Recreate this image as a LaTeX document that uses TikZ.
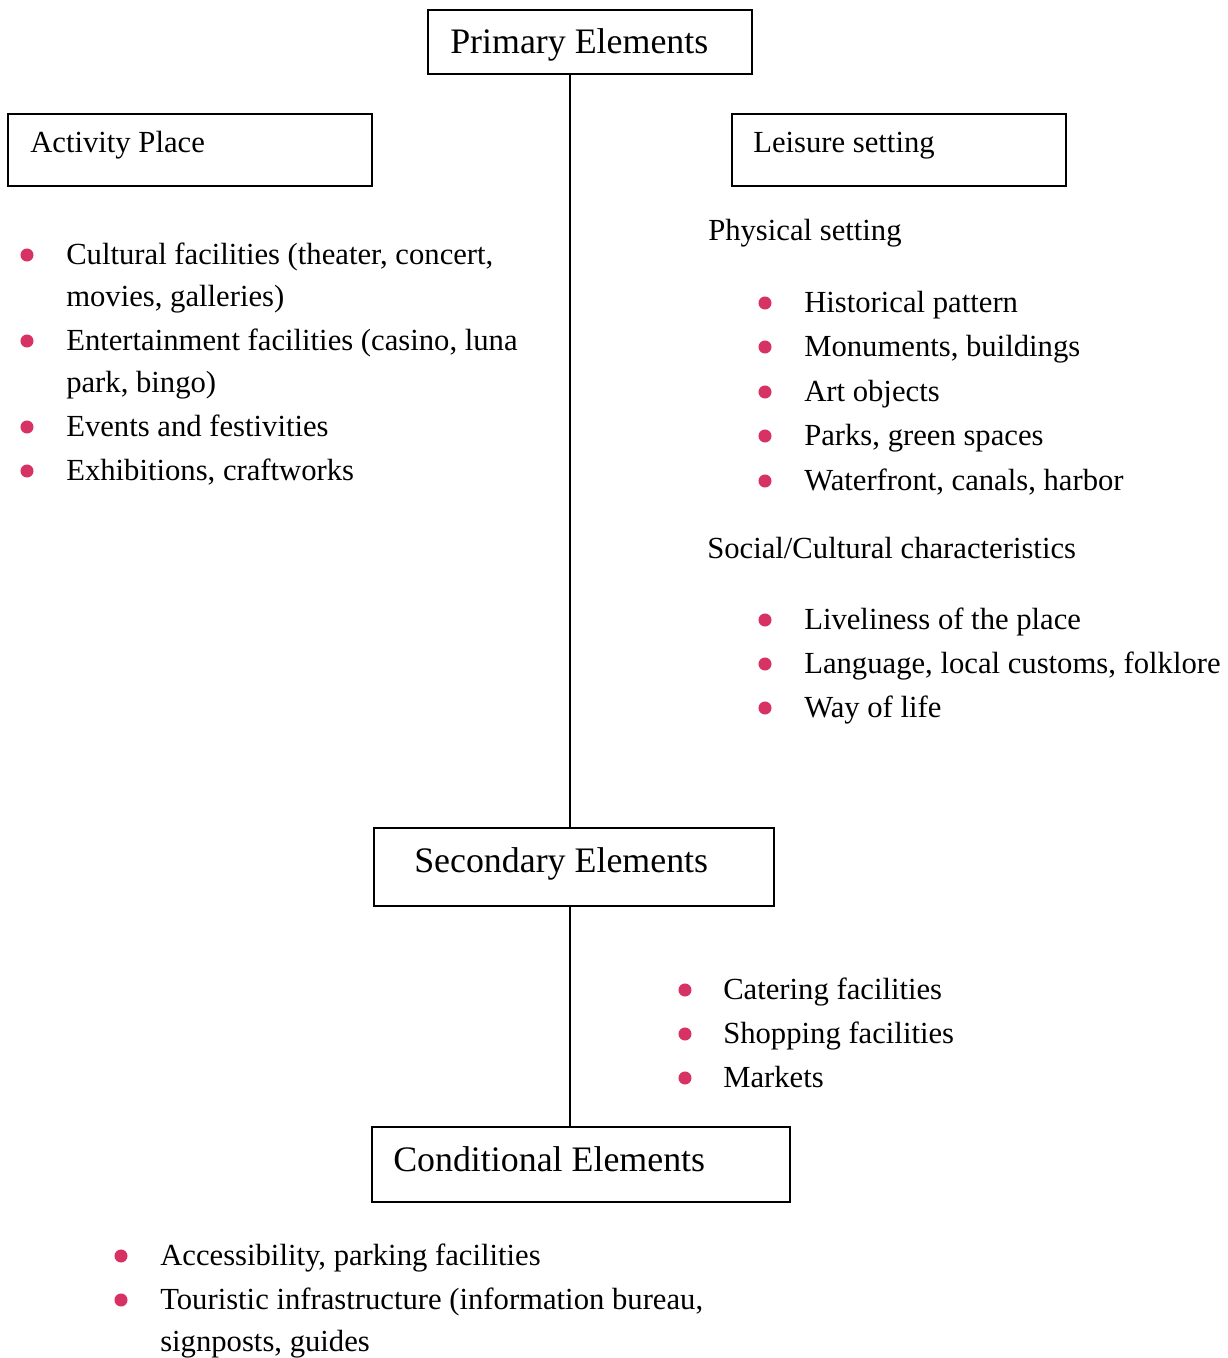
\documentclass[tikz,border=0pt]{standalone}
\usepackage{fontspec}
\setmainfont{Liberation Serif}
\usetikzlibrary{fit}
\definecolor{bulletpink}{RGB}{214,51,100}
\begin{document}
\begin{tikzpicture}[x=0.75pt,y=-0.75pt,
  box/.style={draw=black,line width=1.4pt,inner sep=0pt,rectangle},
  headtxt/.style={anchor=base west,inner sep=0pt,font=\fontsize{26.9pt}{31pt}\selectfont},
  bodytxt/.style={anchor=base west,inner sep=0pt,font=\fontsize{23pt}{31.5pt}\selectfont},
  dot/.style={circle,fill=bulletpink,inner sep=0pt,minimum size=9.8pt},
  link/.style={draw=black,line width=1.4pt}]
\useasboundingbox (0,0) rectangle (1227,1358);

% boxes
\node[box,fit={(428,10) (752,74)}] (prim) {};
\node[headtxt] (primT) at (450,54) {Primary Elements};
\node[box,fit={(8,114) (372,186)}] (act) {};
\node[bodytxt] (actT) at (30,153) {Activity Place};
\node[box,fit={(732,114) (1066,186)}] (leis) {};
\node[bodytxt] (leisT) at (753,153) {Leisure setting};
\node[box,fit={(374,828) (774,906)}] (sec) {};
\node[headtxt] (secT) at (414,872) {Secondary Elements};
\node[box,fit={(372,1127) (790,1202)}] (cond) {};
\node[headtxt] (condT) at (393,1171) {Conditional Elements};

% spine
\coordinate (spine) at (570,0);
\draw[link] (prim.south -| spine) -- (sec.north -| spine);
\draw[link] (sec.south -| spine) -- (cond.north -| spine);

% activity place list
\node[dot] (a1) at (27,255) {};
\node[bodytxt] (a1T) at (66,264.5) {Cultural facilities (theater, concert,};
\node[bodytxt] (a1U) at (66,306.5) {movies, galleries)};
\node[dot] (a2) at (27,341) {};
\node[bodytxt] (a2T) at (66,350.5) {Entertainment facilities (casino, luna};
\node[bodytxt] (a2U) at (66,392.5) {park, bingo)};
\node[dot] (a3) at (27,427) {};
\node[bodytxt] (a3T) at (66,436.5) {Events and festivities};
\node[dot] (a4) at (27,471) {};
\node[bodytxt] (a4T) at (66,480.5) {Exhibitions, craftworks};

% leisure setting
\node[bodytxt] (phys) at (708,241) {Physical setting};
\node[dot] (p1) at (765,303) {};
\node[bodytxt] (p1T) at (804,312.5) {Historical pattern};
\node[dot] (p2) at (765,347) {};
\node[bodytxt] (p2T) at (804,356.5) {Monuments, buildings};
\node[dot] (p3) at (765,392) {};
\node[bodytxt] (p3T) at (804,401.5) {Art objects};
\node[dot] (p4) at (765,436) {};
\node[bodytxt] (p4T) at (804,445.5) {Parks, green spaces};
\node[dot] (p5) at (765,481) {};
\node[bodytxt] (p5T) at (804,490.5) {Waterfront, canals, harbor};

\node[bodytxt] (soc) at (707,558) {Social/Cultural characteristics};
\node[dot] (s1) at (765,620) {};
\node[bodytxt] (s1T) at (804,629.5) {Liveliness of the place};
\node[dot] (s2) at (765,664) {};
\node[bodytxt] (s2T) at (804,673.5) {Language, local customs, folklore};
\node[dot] (s3) at (765,708) {};
\node[bodytxt] (s3T) at (804,717.5) {Way of life};

% secondary list
\node[dot] (c1) at (685,990) {};
\node[bodytxt] (c1T) at (723,999.5) {Catering facilities};
\node[dot] (c2) at (685,1034) {};
\node[bodytxt] (c2T) at (723,1043.5) {Shopping facilities};
\node[dot] (c3) at (685,1078) {};
\node[bodytxt] (c3T) at (723,1087.5) {Markets};

% conditional list
\node[dot] (d1) at (121,1256) {};
\node[bodytxt] (d1T) at (160,1265.5) {Accessibility, parking facilities};
\node[dot] (d2) at (121,1300) {};
\node[bodytxt] (d2T) at (160,1309.5) {Touristic infrastructure (information bureau,};
\node[bodytxt] (d2U) at (160,1351.5) {signposts, guides};
\end{tikzpicture}
\end{document}
